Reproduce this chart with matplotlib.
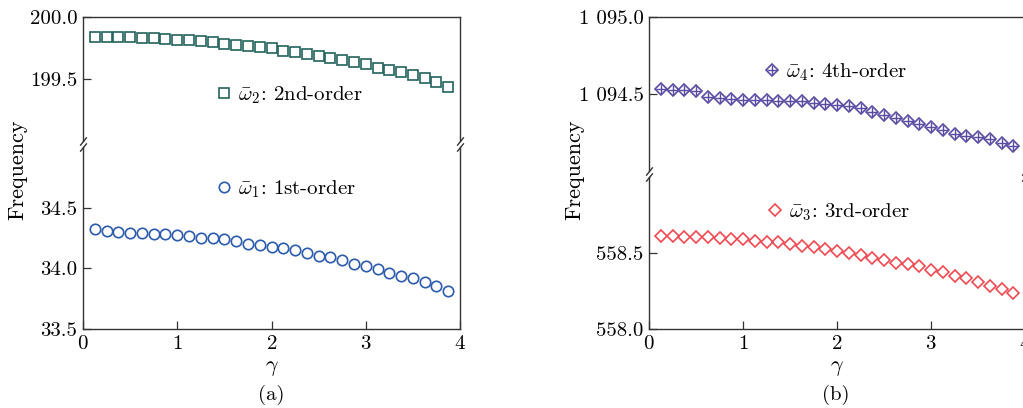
import numpy as np
import matplotlib
matplotlib.use("Agg")
import matplotlib.pyplot as plt

plt.rcParams['font.family'] = ['cmr10', 'DejaVu Serif']
plt.rcParams['mathtext.fontset'] = 'cm'
plt.rcParams['axes.formatter.use_mathtext'] = True

# gamma values
gamma = np.arange(1, 32) * 0.125

# panel (a)
w1 = [34.323, 34.309, 34.301, 34.295, 34.290, 34.284, 34.282, 34.276, 34.268, 34.254,
      34.249, 34.238, 34.224, 34.200, 34.192, 34.172, 34.164, 34.151, 34.123, 34.104,
      34.090, 34.069, 34.033, 34.017, 33.995, 33.962, 33.940, 33.918, 33.885, 33.853,
      33.817]
w2 = [199.841, 199.841, 199.841, 199.836, 199.833, 199.828, 199.823, 199.815, 199.812, 199.804,
      199.796, 199.782, 199.774, 199.766, 199.755, 199.747, 199.729, 199.715, 199.699, 199.685,
      199.667, 199.656, 199.637, 199.618, 199.591, 199.575, 199.559, 199.532, 199.505, 199.479,
      199.438]

# panel (b)
w3 = [558.615, 558.611, 558.606, 558.606, 558.606, 558.598, 558.593, 558.591, 558.578, 558.573,
      558.573, 558.558, 558.549, 558.541, 558.525, 558.516, 558.499, 558.490, 558.470, 558.455,
      558.435, 558.427, 558.413, 558.389, 558.372, 558.350, 558.337, 558.310, 558.286, 558.264,
      558.240]
w4 = [1094.532, 1094.528, 1094.524, 1094.522, 1094.478, 1094.472, 1094.470, 1094.463, 1094.463, 1094.463,
      1094.457, 1094.457, 1094.452, 1094.442, 1094.435, 1094.431, 1094.422, 1094.409, 1094.383, 1094.366,
      1094.344, 1094.325, 1094.307, 1094.286, 1094.268, 1094.242, 1094.225, 1094.221, 1094.210, 1094.182,
      1094.162]

teal = '#24645c'
blue = '#2b5cad'
purple = '#5a4ba3'
red = '#ef4a52'
spine_c = '#333333'
fs = 15

W, H = 1023, 408
fig = plt.figure(figsize=(W / 100, H / 100), dpi=100)


def axes_px(l, t, r, b):
    return fig.add_axes([l / W, 1 - b / H, (r - l) / W, (b - t) / H])


def style(ax, top_part):
    for s in ax.spines.values():
        s.set_color(spine_c)
        s.set_linewidth(1.0)
    ax.tick_params(direction='in', length=5.5, width=0.9, color=spine_c,
                   labelsize=fs, right=False, top=False, pad=4)
    ax.set_xlim(0, 4)
    ax.set_xticks([0, 1, 2, 3, 4])
    if top_part:
        ax.spines['bottom'].set_visible(False)
        ax.tick_params(bottom=False, labelbottom=False)
        y0 = 0
    else:
        ax.spines['top'].set_visible(False)
        y0 = 1
    # break marks on both spines
    kw = dict(marker=[(-0.8, -1), (0.8, 1)], markersize=6, linestyle='none',
              color=spine_c, mec=spine_c, mew=1.0, clip_on=False, transform=ax.transAxes)
    ax.plot([0, 1], [y0, y0], **kw)


def add_legend(ax, x_px, y_px):
    return ax.legend(loc='center left', bbox_to_anchor=(x_px / W, 1 - y_px / H),
                     bbox_transform=fig.transFigure, frameon=False, fontsize=fs,
                     handlelength=0.6, handletextpad=0.35, borderpad=0, borderaxespad=0)


# ---- (a)
a_up = axes_px(83, 17, 460, 141)
a_lo = axes_px(83, 147, 460, 329)
style(a_up, True)
style(a_lo, False)
a_up.plot(gamma, w2, 's', ms=6.8, mfc='none', mec=teal, mew=1.2,
          label=r'$\bar{\omega}_2$: 2nd-order')
a_lo.plot(gamma, w1, 'o', ms=7.5, mfc='none', mec=blue, mew=1.2,
          label=r'$\bar{\omega}_1$: 1st-order')
a_up.set_ylim(199.0, 200.0)
a_up.set_yticks([199.5, 200.0])
a_up.set_yticklabels(['199.5', '200.0'])
a_lo.set_ylim(33.5, 35.0)
a_lo.set_yticks([33.5, 34.0, 34.5])
a_lo.set_yticklabels(['33.5', '34.0', '34.5'])
add_legend(a_up, 218, 95)
add_legend(a_lo, 218, 189)

# ---- (b)
b_up = axes_px(649, 17, 1025, 171)
b_lo = axes_px(649, 177, 1025, 329)
style(b_up, True)
style(b_lo, False)
b_lo.plot(gamma, w3, 'D', ms=5.8, mfc='none', mec=red, mew=1.2,
          label=r'$\bar{\omega}_3$: 3rd-order')
b_up.plot(gamma, w4, 'D', ms=5.8, mfc='none', mec=purple, mew=1.2)
b_up.plot(gamma, w4, '+', ms=7.5, mec=purple, mew=1.0)
h1, = b_up.plot([], [], 'D', ms=5.8, mfc='none', mec=purple, mew=1.2)
h2, = b_up.plot([], [], '+', ms=7.5, mec=purple, mew=1.0)
b_up.set_ylim(1094.0, 1095.0)
b_up.set_yticks([1094.5, 1095.0])
b_up.set_yticklabels(['1 094.5', '1 095.0'])
b_lo.set_ylim(558.0, 559.0)
b_lo.set_yticks([558.0, 558.5])
b_lo.set_yticklabels(['558.0', '558.5'])
b_up.legend([(h1, h2)], [r'$\bar{\omega}_4$: 4th-order'], loc='center left',
            bbox_to_anchor=(766 / W, 1 - 72 / H), bbox_transform=fig.transFigure,
            frameon=False, fontsize=fs, handlelength=0.6, handletextpad=0.35,
            borderpad=0, borderaxespad=0)
add_legend(b_lo, 769, 212)

# labels
for ax in (a_lo, b_lo):
    ax.set_xlabel(r'$\gamma$', fontsize=16, labelpad=4)
fig.text(18 / W, 1 - 170 / H, 'Frequency', rotation=90, ha='center', va='center', fontsize=16)
fig.text(575 / W, 1 - 170 / H, 'Frequency', rotation=90, ha='center', va='center', fontsize=16)
fig.text(271 / W, 1 - 395 / H, '(a)', ha='center', va='center', fontsize=fs)
fig.text(836 / W, 1 - 395 / H, '(b)', ha='center', va='center', fontsize=fs)

fig.savefig('out.png', dpi=100)
